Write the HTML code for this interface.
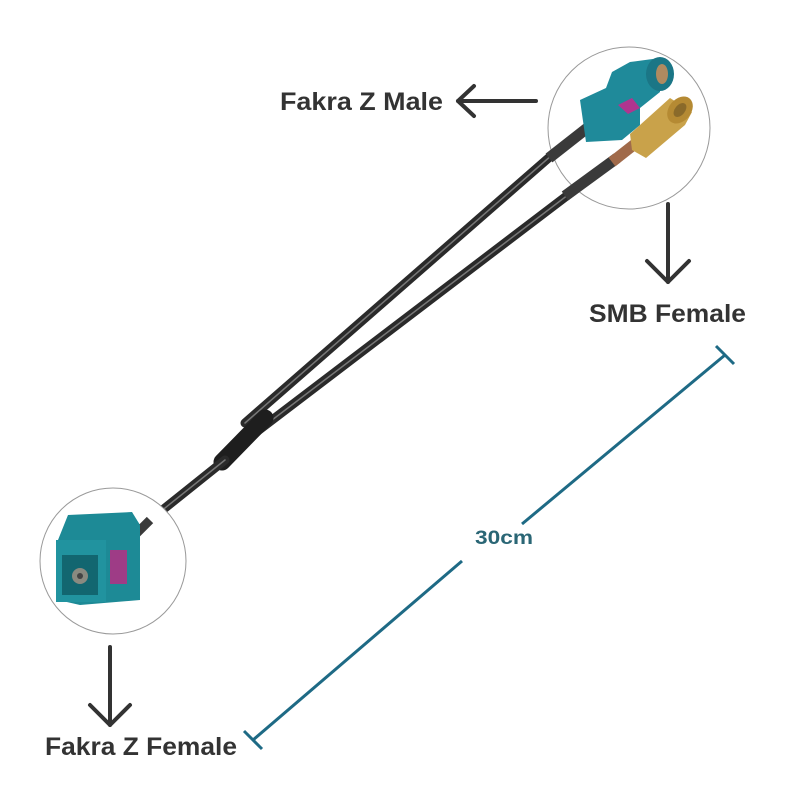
<!DOCTYPE html>
<html><head><meta charset="utf-8"><style>
html,body{margin:0;padding:0;background:#fff}
svg{display:block}
text{font-family:"Liberation Sans",sans-serif;font-weight:bold}
</style></head><body>
<svg width="800" height="800" viewBox="0 0 800 800" xmlns="http://www.w3.org/2000/svg">
<rect width="800" height="800" fill="#fff"/>
<!-- cables outside -->
<g stroke-linecap="round" fill="none">
  <line x1="560" y1="148" x2="245" y2="423" stroke="#2a2a2a" stroke-width="9"/>
  <line x1="560" y1="148" x2="245" y2="423" stroke="#777" stroke-width="1.5"/>
  <line x1="585" y1="182" x2="255" y2="433" stroke="#2a2a2a" stroke-width="9"/>
  <line x1="585" y1="182" x2="255" y2="433" stroke="#777" stroke-width="1.5"/>
  <line x1="265" y1="418" x2="222" y2="462" stroke="#1e1e1e" stroke-width="17"/>
  <line x1="225" y1="460" x2="150" y2="520" stroke="#2a2a2a" stroke-width="9"/>
  <line x1="225" y1="460" x2="150" y2="520" stroke="#777" stroke-width="1.5"/>
</g>
<!-- top circle -->
<circle cx="629" cy="128" r="81" fill="#fff" stroke="#999" stroke-width="1"/>
<g stroke-linecap="butt">
  <line x1="549" y1="158" x2="600" y2="118" stroke="#3a3a3a" stroke-width="11"/>
  <line x1="565" y1="196" x2="617" y2="158" stroke="#3a3a3a" stroke-width="11"/>
  <line x1="612" y1="162" x2="640" y2="140" stroke="#a06a4a" stroke-width="11"/>
  <polygon points="630,134 670,98 692,112 685,125 646,158 632,150" fill="#c9a24a"/>
  <ellipse cx="680" cy="110" rx="11" ry="15" fill="#b58a33" transform="rotate(40 680 110)"/>
  <ellipse cx="680" cy="110" rx="5" ry="8" fill="#8a6a2a" transform="rotate(40 680 110)"/>
  <polygon points="580,100 606,88 612,72 630,62 660,58 660,92 640,108 640,125 622,140 586,142" fill="#1f8a9a"/>
  <ellipse cx="660" cy="74" rx="14" ry="17" fill="#1b7686"/>
  <ellipse cx="662" cy="74" rx="6" ry="10" fill="#b08a60"/>
  <polygon points="618,105 632,98 640,108 628,114" fill="#b0358f"/>
</g>
<!-- bottom circle -->
<circle cx="113" cy="561" r="73" fill="#fff" stroke="#999" stroke-width="1"/>
<line x1="150" y1="520" x2="132" y2="538" stroke="#3a3a3a" stroke-width="9"/>
<g>
  <polygon points="58,540 68,515 132,512 140,525 140,600 80,605 58,600" fill="#1d8a96"/>
  <rect x="56" y="540" width="50" height="62" fill="#21939f"/>
  <rect x="62" y="555" width="36" height="40" fill="#126670"/>
  <circle cx="80" cy="576" r="8" fill="#8a8a80"/>
  <circle cx="80" cy="576" r="3" fill="#444"/>
  <rect x="110" y="550" width="17" height="34" fill="#9e3c86"/>
</g>
<!-- arrows -->
<g stroke="#333" stroke-width="4" fill="none" stroke-linecap="round" stroke-linejoin="round">
  <line x1="536" y1="101" x2="458" y2="101"/>
  <polyline points="474,86 458,101 474,116"/>
  <line x1="668" y1="204" x2="668" y2="282"/>
  <polyline points="647,261 668,282 689,261"/>
  <line x1="110" y1="647" x2="110" y2="725"/>
  <polyline points="90,705 110,725 130,705"/>
</g>
<!-- dimension -->
<g stroke="#1e6a85" stroke-width="3" stroke-linecap="butt">
  <line x1="253" y1="740" x2="462" y2="561"/>
  <line x1="522" y1="524" x2="725" y2="355"/>
  <line x1="244" y1="731" x2="262" y2="749"/>
  <line x1="716" y1="346" x2="734" y2="364"/>
</g>
<text x="475" y="544" font-size="19" fill="#2a6675" textLength="58" lengthAdjust="spacingAndGlyphs">30cm</text>
<!-- labels -->
<text x="280" y="110" font-size="25" fill="#333" textLength="163" lengthAdjust="spacingAndGlyphs">Fakra Z Male</text>
<text x="589" y="322" font-size="25" fill="#333" textLength="157" lengthAdjust="spacingAndGlyphs">SMB Female</text>
<text x="45" y="755" font-size="25" fill="#333" textLength="192" lengthAdjust="spacingAndGlyphs">Fakra Z Female</text>
</svg>
</body></html>
